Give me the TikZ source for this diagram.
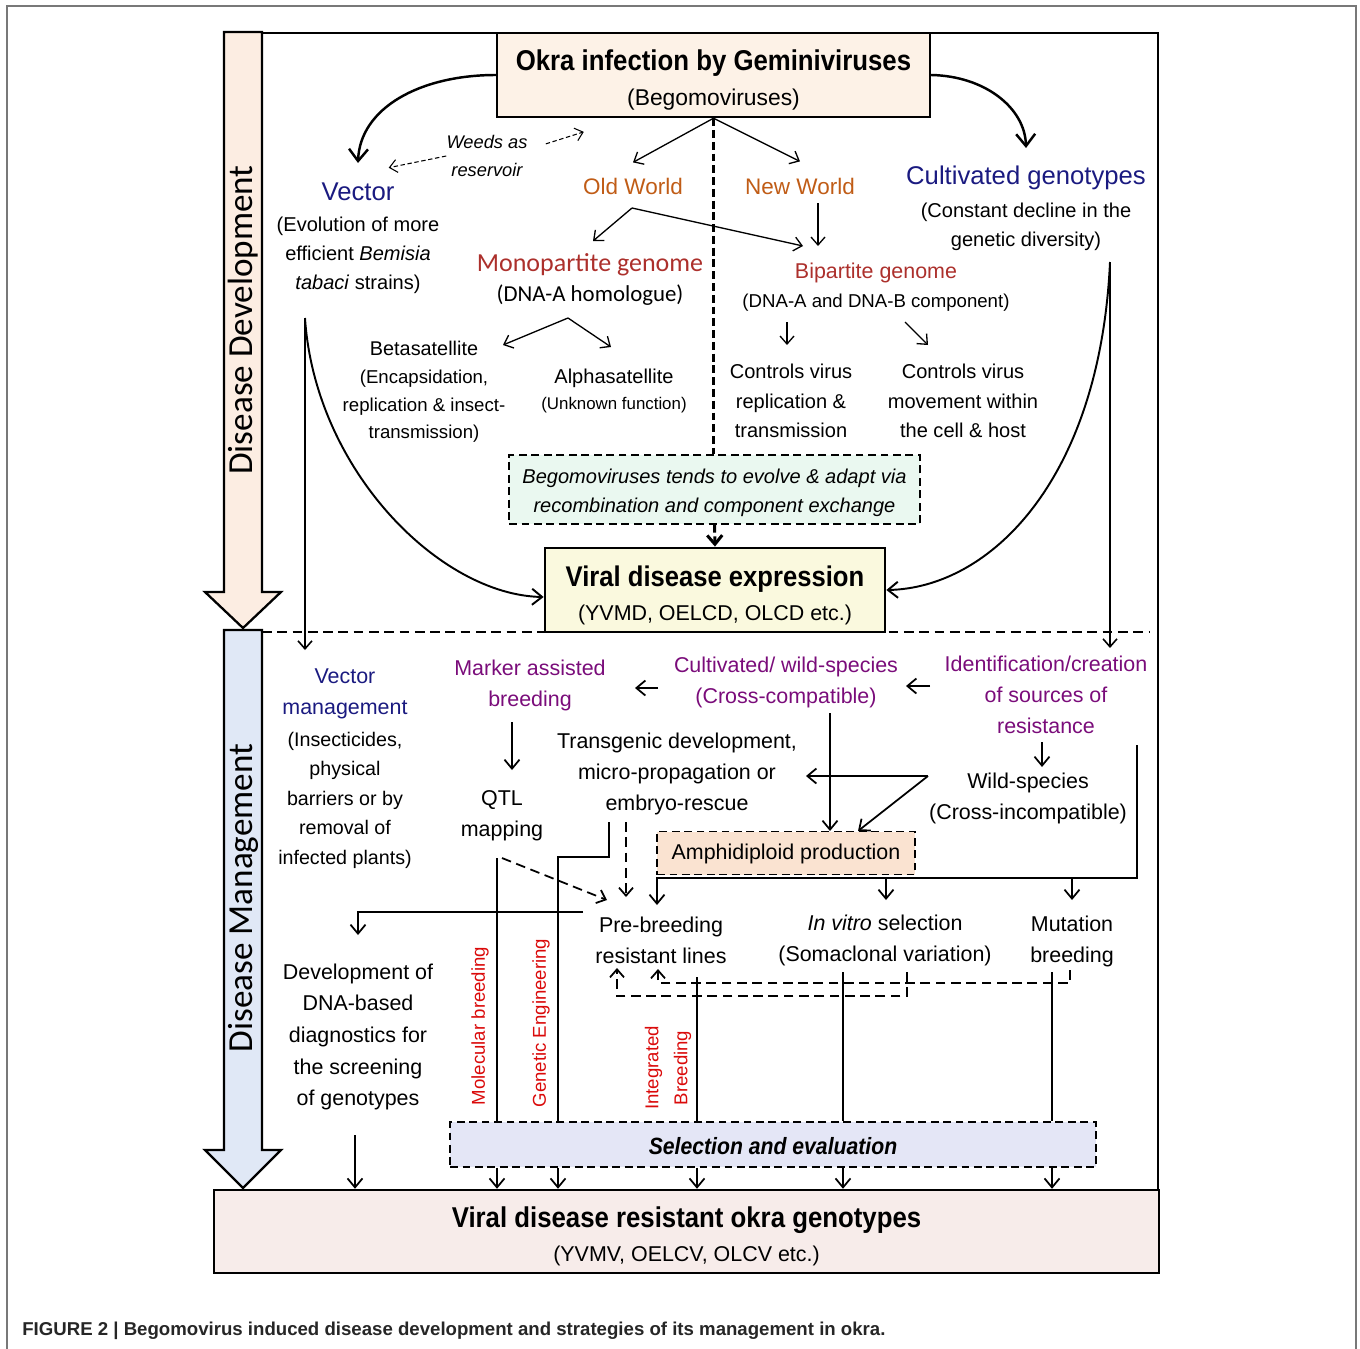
\documentclass[tikz,border=0pt]{standalone}
\usepackage{fontspec}
\setmainfont{Liberation Sans}
\newfontfamily\humanist{Carlito}
\newfontfamily\narrowsans[FakeStretch=0.9]{Liberation Sans}
\usetikzlibrary{arrows.meta,positioning,calc}
\definecolor{NavyText}{RGB}{26,26,128}
\definecolor{OchreText}{RGB}{192,92,22}
\definecolor{BrickText}{RGB}{172,48,44}
\definecolor{PlumText}{RGB}{122,12,122}
\definecolor{RedText}{RGB}{218,10,10}
\definecolor{PeachPale}{RGB}{253,242,231}
\definecolor{PeachArrow}{RGB}{252,237,226}
\definecolor{CreamPale}{RGB}{250,249,222}
\definecolor{MintPale}{RGB}{234,248,240}
\definecolor{SalmonPale}{RGB}{250,227,209}
\definecolor{LavenderPale}{RGB}{228,230,246}
\definecolor{BluePale}{RGB}{224,232,246}
\definecolor{RosePale}{RGB}{247,236,234}
\definecolor{FrameGray}{RGB}{120,120,120}
\tikzset{
  titlebox/.style={draw, line width=1.4pt, fill=#1, align=center, inner sep=0pt,
    font=\fontsize{12.2}{19.5}\selectfont},
  dashbox/.style={draw, line width=0.8pt, dash pattern=on 4.5pt off 2.6pt, fill=#1,
    align=center, inner sep=0pt},
  stagearrow/.style={draw, line width=1.3pt},
  stagetext/.style={rotate=90, inner sep=0pt, font=\humanist\fontsize{20}{24}\selectfont},
  sepline/.style={line width=1.3pt, dash pattern=on 5.5pt off 3.2pt},
  headtext/.style={text=#1, align=center, inner sep=0pt, font=\fontsize{14.6}{18}\selectfont},
  bodytext/.style={align=center, inner sep=0pt, font=\fontsize{11.4}{16.6}\selectfont},
  lowtext/.style={align=center, inner sep=0pt, font=\fontsize{12.2}{17.6}\selectfont},
  plumtext/.style={lowtext, text=PlumText},
  redlabel/.style={rotate=90, align=center, inner sep=0pt, text=RedText,
    font=\fontsize{10.6}{16.5}\selectfont},
  bigarr/.style={-{Straight Barb[length=2.4mm, width=3.8mm]}, line width=1.4pt},
  curvearr/.style={-{Straight Barb[length=2mm, width=3.2mm]}, line width=1.1pt},
  thinarr/.style={-{Straight Barb[length=1.6mm, width=2.8mm]}, line width=0.75pt},
  lowarr/.style={-{Straight Barb[length=1.8mm, width=3mm]}, line width=1pt},
  lowline/.style={line width=1pt},
  dasharr/.style={-{Straight Barb[length=1.5mm, width=2.6mm]}, line width=0.6pt,
    dash pattern=on 2.5pt off 1.5pt},
  lowdash/.style={-{Straight Barb[length=1.6mm, width=2.8mm]}, line width=1pt,
    dash pattern=on 5.5pt off 3.2pt},
  spine/.style={line width=1.7pt, dash pattern=on 4.5pt off 2.2pt},
}
\begin{document}
\begin{tikzpicture}[x=0.02cm, y=-0.02cm]
    \useasboundingbox (0,0) rectangle (1360,1349);
    \draw[FrameGray, line width=0.6pt] (7,1349) -- (7,6) -- (1356,6) -- (1356,1349);
    \draw[line width=1.2pt] (243,33) -- (1158,33) -- (1158,1190);
    % ---- flechas de etapa ----
    \draw[stagearrow, fill=PeachArrow] (224,32) -- (262,32) -- (262,592) -- (281,592) -- (243,628) -- (205,592) -- (224,592) -- cycle;
    \draw[stagearrow, fill=BluePale] (224,630) -- (262,630) -- (262,1150) -- (281,1150) -- (243,1188) -- (205,1150) -- (224,1150) -- cycle;
    \node[stagetext] (devlabel) at (243,320) {Disease Development};
    \node[stagetext] (mgmtlabel) at (243,898) {Disease Management};
    \draw[sepline] (262,632) -- (1150,632);
    % ---- desarrollo ----
    \node[titlebox=PeachPale, minimum width=8.66cm, minimum height=1.68cm, font=\fontsize{13}{20}\selectfont] (okra) at (713.5,75)
      {\rule{0pt}{17.5pt}{\narrowsans\fontsize{16.3}{20}\selectfont\bfseries Okra infection by Geminiviruses}\\(Begomoviruses)};
    \node[headtext=NavyText] (vector) at (358,192) {Vector};
    \node[bodytext] (vectordesc) at (358,255) {(Evolution of more\\efficient \textit{Bemisia}\\\textit{tabaci} strains)};
    \node[bodytext, font=\fontsize{10.4}{16}\selectfont\itshape] (weeds) at (487,156) {Weeds as\\reservoir};
    \node[headtext=OchreText, font=\fontsize{12.8}{16}\selectfont] (oldw) at (633,186) {Old World};
    \node[headtext=OchreText, font=\fontsize{12.8}{16}\selectfont] (neww) at (800,186) {New World};
    \node[headtext=NavyText] (cultg) at (1026,178) {Cultivated genotypes};
    \node[bodytext] (cultgdesc) at (1026,227) {(Constant decline in the\\genetic diversity)};
    \node[headtext=BrickText, font=\humanist\fontsize{14.8}{18}\selectfont] (mono) at (590,265) {Monopartite genome};
    \node[bodytext, font=\humanist\fontsize{13}{16}\selectfont] (monodesc) at (590,295) {(DNA-A homologue)};
    \node[headtext=BrickText, font=\fontsize{12.2}{16}\selectfont] (bip) at (876,273) {Bipartite genome};
    \node[bodytext, font=\fontsize{10.6}{16}\selectfont] (bipdesc) at (876,303) {(DNA-A and DNA-B component)};
    \node[bodytext, font=\fontsize{10.6}{15.8}\selectfont] (beta) at (424,392)
      {{\fontsize{11.3}{15.8}\selectfont Betasatellite}\\(Encapsidation,\\replication \& insect-\\transmission)};
    \node[bodytext, font=\fontsize{11.4}{14.8}\selectfont] (alpha) at (614,391)
      {Alphasatellite\\{\fontsize{9.6}{14.8}\selectfont (Unknown function)}};
    \node[bodytext, font=\fontsize{11.4}{16.8}\selectfont] (ctrlrep) at (791,401) {Controls virus\\replication \&\\transmission};
    \node[bodytext, font=\fontsize{11.4}{16.8}\selectfont] (ctrlmov) at (963,401) {Controls virus\\movement within\\the cell \& host};
    \node[dashbox=MintPale, minimum width=8.22cm, minimum height=1.38cm, font=\fontsize{11.4}{17}\selectfont\itshape] (evolve) at (714.5,489.5)
      {\rule{0pt}{12pt}Begomoviruses tends to evolve \& adapt via\\recombination and component exchange};
    \node[titlebox=CreamPale, line width=1.6pt, minimum width=6.8cm, minimum height=1.68cm] (viralexp) at (715,590)
      {\rule{0pt}{17.5pt}{\narrowsans\fontsize{16.2}{19.4}\selectfont\bfseries Viral disease expression}\\(YVMD, OELCD, OLCD etc.)};
    % ---- conectores de desarrollo ----
    \coordinate (vecin) at (358,163);
    \coordinate (cultin) at (1026,148);
    \draw[bigarr] (okra.west) .. controls (420,75) and (360,108) .. (vecin);
    \draw[bigarr] (okra.east) .. controls (985,76) and (1025,108) .. (cultin);
    \draw[dasharr] (weeds.west) -- ($(vector.north east)+(-6,-15)$);
    \draw[dasharr] ($(weeds.north east)+(18,9)$) -- ($(weeds.north east)+(56,-3)$);
    \draw[thinarr] (okra.south) -- ($(oldw.north)+(0,-15)$);
    \draw[thinarr] (okra.south) -- ($(neww.north)+(0,-16)$);
    \draw[spine] (okra.south) -- (okra.south |- evolve.north);
    \coordinate (oldsplit) at (632,208);
    \draw[thinarr] (oldsplit) -- (593,241);
    \draw[thinarr] (oldsplit) -- (803,246);
    \draw[thinarr] (818,203) -- (818,246);
    \coordinate (monosplit) at (568,318);
    \draw[thinarr] (monosplit) -- (503,345);
    \draw[thinarr] (monosplit) -- (611,347);
    \draw[thinarr] (787,322) -- (787,345);
    \draw[thinarr] (905,322) -- (928,345);
    \draw[spine, -{Straight Barb[length=1.8mm, width=3mm]}] (evolve.south) -- (viralexp.north);
    \coordinate (vecsplit) at (305,318);
    \coordinate (cultsplit) at (1110,262);
    \draw[curvearr] (vecsplit) .. controls (315,470) and (440,595) .. ($(viralexp.west)+(0,7)$);
    \draw[curvearr] (cultsplit) .. controls (1100,480) and (990,588) .. (viralexp.east);
    \draw[thinarr, line width=0.9pt] (vecsplit) -- (305,650);
    \draw[thinarr, line width=0.9pt] (cultsplit) -- (1110,648);
    % ---- manejo ----
    \node[headtext=NavyText, font=\fontsize{12.2}{17.6}\selectfont] (vecmgmt) at (345,694) {Vector\\management};
    \node[bodytext, font=\fontsize{11.2}{16.8}\selectfont] (vecmgmtdesc) at (345,800) {(Insecticides,\\physical\\barriers or by\\removal of\\infected plants)};
    \node[plumtext] (mab) at (530,685) {Marker assisted\\breeding};
    \node[plumtext] (cultwild) at (786,682) {Cultivated/ wild-species\\(Cross-compatible)};
    \node[plumtext] (ident) at (1046,695) {Identification/creation\\of sources of\\resistance};
    \node[lowtext] (qtl) at (502,816) {QTL\\mapping};
    \node[lowtext] (transg) at (677,774) {Transgenic development,\\micro-propagation or\\embryo-rescue};
    \node[lowtext] (wild) at (1028,798) {Wild-species\\(Cross-incompatible)};
    \node[dashbox=SalmonPale, minimum width=5.16cm, minimum height=0.86cm, font=\fontsize{12.2}{16}\selectfont] (amphi) at (786,853) {\rule{0pt}{10pt}Amphidiploid production};
    \node[lowtext] (prebreed) at (661,940) {Pre-breeding\\resistant lines};
    \node[lowtext] (invitro) at (885,940) {\textit{In vitro} selection\\(Somaclonal variation)};
    \node[lowtext] (mutation) at (1072,941) {Mutation\\breeding};
    \node[lowtext, font=\fontsize{12.2}{18}\selectfont] (dnadiag) at (358,1037) {Development of\\DNA-based\\diagnostics for\\the screening\\of genotypes};
    \node[redlabel] (molb) at (480,1026) {Molecular breeding};
    \node[redlabel] (geneng) at (541,1023) {Genetic Engineering};
    \node[redlabel] (intb) at (668,1068) {Integrated\\Breeding};
    \node[dashbox=LavenderPale, minimum width=12.92cm, minimum height=0.9cm, font=\narrowsans\fontsize{13.4}{16}\selectfont\bfseries\itshape] (selev) at (773,1144.5) {\rule{0pt}{11pt}Selection and evaluation};
    \node[titlebox=RosePale, minimum width=18.9cm, minimum height=1.66cm] (resist) at (686.5,1231.5)
      {\rule{0pt}{17pt}{\narrowsans\fontsize{16.3}{19.4}\selectfont\bfseries Viral disease resistant okra genotypes}\\(YVMV, OELCV, OLCV etc.)};
    % ---- conectores de manejo ----
    \draw[lowarr] (930,686) -- (906,686);
    \draw[lowarr] (658,688) -- (635,688);
    \draw[lowarr] (512,722) -- (512,770);
    \draw[lowarr] (1042,742) -- (1042,767);
    \coordinate (wildsplit) at (928,776);
    \draw[lowarr] (wildsplit) -- (806,776);
    \draw[lowarr] (wildsplit) -- (858,831);
    \draw[lowarr] (830,713) -- (830,831);
    \coordinate (identside) at (1137,745);
    \draw[lowarr] (identside) |- (657,878) -- (657,905);
    \draw[lowarr] (886,878) -- (886,900);
    \draw[lowarr] (1072,878) -- (1072,900);
    \draw[lowline] (609,822) -- (609,857) -- (558,857) -- (558,0 |- selev.north);
    \draw[lowdash] (626,822) -- (626,897);
    \draw[lowline] (497,858) -- (497,0 |- selev.north);
    \draw[lowdash] (502,858) -- (607,900);
    \draw[lowarr] (583,912) -| (358,935);
    \draw[lowarr] (355,1135) -- (355,0 |- resist.north);
    \draw[lowline] (697,977) -- (697,0 |- selev.north);
    \draw[lowline] (843,972) -- (843,0 |- selev.north);
    \draw[lowline] (1052,972) -- (1052,0 |- selev.north);
    \draw[lowdash] (907,972) |- (617,996) -- (617,968);
    \draw[lowdash] (1070,970) |- (658,983) -- (658,969);
    \draw[lowarr] (497,0 |- selev.south) -- (497,0 |- resist.north);
    \draw[lowarr] (558,0 |- selev.south) -- (558,0 |- resist.north);
    \draw[lowarr] (697,0 |- selev.south) -- (697,0 |- resist.north);
    \draw[lowarr] (843,0 |- selev.south) -- (843,0 |- resist.north);
    \draw[lowarr] (1052,0 |- selev.south) -- (1052,0 |- resist.north);
    \node[anchor=west, inner sep=0pt, text=black!85, font=\fontsize{10.6}{13}\selectfont\bfseries] (caption) at (22,1331)
      {FIGURE 2 | Begomovirus induced disease development and strategies of its management in okra.};
\end{tikzpicture}
\end{document}
